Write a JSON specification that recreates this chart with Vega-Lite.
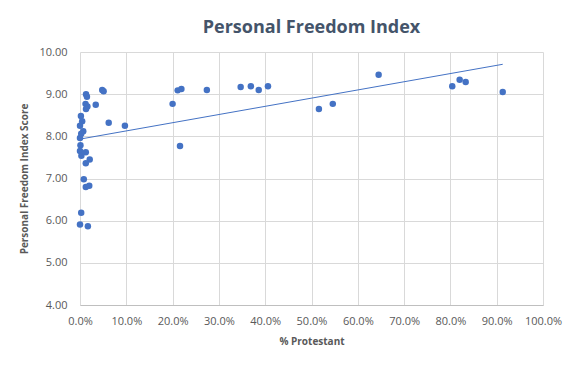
{
  "$schema": "https://vega.github.io/schema/vega-lite/v6.json",
  "width": 463,
  "height": 253,
  "autosize": {"type": "none"},
  "padding": {"left": 80, "top": 52, "right": 33, "bottom": 60},
  "background": "white",
  "title": {
    "text": "Personal Freedom Index",
    "font": "Open Sans",
    "fontSize": 18,
    "fontWeight": "bold",
    "color": "#44546A",
    "anchor": "middle",
    "offset": 9
  },
  "data": {
    "values": [
      {"protestant": 0.002, "score": 8.48},
      {"protestant": 0.0047, "score": 8.36},
      {"protestant": 0.0, "score": 8.25},
      {"protestant": 0.007, "score": 8.12},
      {"protestant": 0.0026, "score": 8.06},
      {"protestant": 0.0, "score": 7.96},
      {"protestant": 0.001, "score": 7.79},
      {"protestant": 0.0, "score": 7.65},
      {"protestant": 0.003, "score": 7.54},
      {"protestant": 0.0125, "score": 7.62},
      {"protestant": 0.021, "score": 7.45},
      {"protestant": 0.0125, "score": 7.36},
      {"protestant": 0.0082, "score": 6.98},
      {"protestant": 0.0125, "score": 6.8},
      {"protestant": 0.02, "score": 6.83},
      {"protestant": 0.0026, "score": 6.19},
      {"protestant": 0.0, "score": 5.91},
      {"protestant": 0.017, "score": 5.87},
      {"protestant": 0.013, "score": 9.0},
      {"protestant": 0.015, "score": 8.94},
      {"protestant": 0.012, "score": 8.77},
      {"protestant": 0.016, "score": 8.71},
      {"protestant": 0.013, "score": 8.65},
      {"protestant": 0.034, "score": 8.75},
      {"protestant": 0.048, "score": 9.1},
      {"protestant": 0.051, "score": 9.07},
      {"protestant": 0.062, "score": 8.32},
      {"protestant": 0.097, "score": 8.25},
      {"protestant": 0.2, "score": 8.77},
      {"protestant": 0.211, "score": 9.09},
      {"protestant": 0.219, "score": 9.12},
      {"protestant": 0.216, "score": 7.77},
      {"protestant": 0.274, "score": 9.1},
      {"protestant": 0.347, "score": 9.17},
      {"protestant": 0.369, "score": 9.19},
      {"protestant": 0.386, "score": 9.1},
      {"protestant": 0.406, "score": 9.19},
      {"protestant": 0.516, "score": 8.65},
      {"protestant": 0.546, "score": 8.77},
      {"protestant": 0.645, "score": 9.46},
      {"protestant": 0.804, "score": 9.19},
      {"protestant": 0.82, "score": 9.34},
      {"protestant": 0.833, "score": 9.29},
      {"protestant": 0.913, "score": 9.05}
    ]
  },
  "layer": [
    {
      "mark": {"type": "circle", "size": 42, "color": "#4472C4", "opacity": 1},
      "encoding": {
        "x": {
          "field": "protestant",
          "type": "quantitative",
          "scale": {"domain": [0, 1], "nice": false},
          "axis": {
            "values": [0, 0.1, 0.2, 0.3, 0.4, 0.5, 0.6, 0.7, 0.8, 0.9, 1.0],
            "format": ".1%",
            "title": "% Protestant",
            "titleFont": "Open Sans",
            "titleFontSize": 10,
            "titleFontWeight": "bold",
            "titleColor": "#595959",
            "titlePadding": 10,
            "labelFont": "Open Sans",
            "labelFontSize": 11,
            "labelColor": "#595959",
            "labelPadding": 10,
            "labelOverlap": false,
            "labelFlush": false,
            "labelBound": false,
            "ticks": false,
            "domainColor": "#BFBFBF",
            "gridColor": "#D9D9D9"
          }
        },
        "y": {
          "field": "score",
          "type": "quantitative",
          "scale": {"domain": [4, 10], "nice": false, "zero": false},
          "axis": {
            "values": [4, 5, 6, 7, 8, 9, 10],
            "format": ".2f",
            "title": "Personal Freedom Index Score",
            "titleFont": "Open Sans",
            "titleFontSize": 10,
            "titleFontWeight": "bold",
            "titleColor": "#595959",
            "titlePadding": 9,
            "labelFont": "Open Sans",
            "labelFontSize": 11,
            "labelColor": "#595959",
            "labelPadding": 13,
            "labelOverlap": false,
            "labelFlush": false,
            "ticks": false,
            "domain": false,
            "gridColor": "#D9D9D9"
          }
        }
      }
    },
    {
      "transform": [{"regression": "score", "on": "protestant"}],
      "mark": {"type": "line", "color": "#4472C4", "strokeWidth": 1},
      "encoding": {
        "x": {"field": "protestant", "type": "quantitative"},
        "y": {"field": "score", "type": "quantitative"}
      }
    }
  ],
  "config": {
    "view": {"stroke": null}
  }
}
